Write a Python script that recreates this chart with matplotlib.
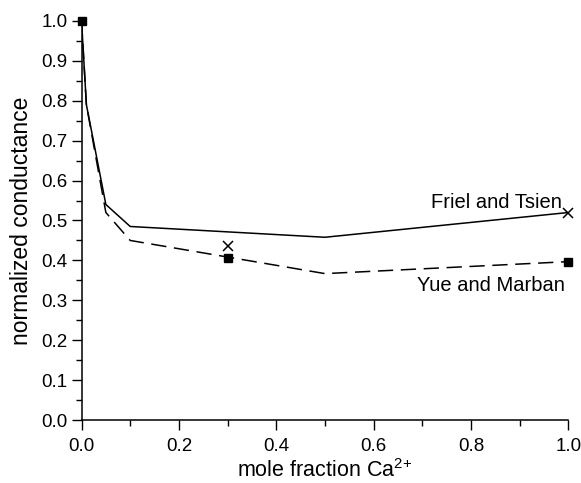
import matplotlib
matplotlib.use("Agg")
import matplotlib.pyplot as plt
from matplotlib.ticker import MultipleLocator

plt.rcParams["font.family"] = ["Liberation Sans", "DejaVu Sans"]
plt.rcParams["mathtext.fontset"] = "custom"
plt.rcParams["mathtext.rm"] = "Liberation Sans"

# Model curves
x_model = [0.0, 0.01, 0.05, 0.1, 0.5, 1.0]
friel_model = [1.0, 0.79, 0.54, 0.485, 0.458, 0.52]
yue_model = [1.0, 0.79, 0.52, 0.45, 0.367, 0.397]

# Experimental points
x_friel = [0.3, 1.0]
friel_data = [0.437, 0.52]
x_yue = [0.0, 0.3, 1.0]
yue_data = [1.0, 0.405, 0.397]

fig = plt.figure(figsize=(5.81, 4.83), dpi=100)
ax = fig.add_axes([0.1403, 0.130, 0.838, 0.827])

ax.plot(x_model, friel_model, color="black", lw=1.1)
ax.plot(x_model, yue_model, color="black", lw=1.1, dashes=(10, 5))
ax.plot(x_friel, friel_data, ls="none", marker="x", ms=7.5, mew=1.1,
        color="black", clip_on=False)
ax.plot(x_yue, yue_data, ls="none", marker="s", ms=6, color="black",
        clip_on=False)

ax.text(0.986, 0.532, "Friel and Tsien", ha="right", va="baseline", fontsize=14.5)
ax.text(0.84, 0.36, "Yue and Marban", ha="center", va="top", fontsize=14.5)

ax.set_xlim(0, 1.0)
ax.set_ylim(0, 1.0)
ax.xaxis.set_major_locator(MultipleLocator(0.2))
ax.xaxis.set_minor_locator(MultipleLocator(0.1))
ax.yaxis.set_major_locator(MultipleLocator(0.1))
ax.yaxis.set_minor_locator(MultipleLocator(0.05))
ax.xaxis.set_major_formatter(plt.FormatStrFormatter("%.1f"))
ax.yaxis.set_major_formatter(plt.FormatStrFormatter("%.1f"))
ax.tick_params(which="major", direction="out", length=7, width=1, labelsize=13.5)
ax.tick_params(which="minor", direction="out", length=4, width=1)
ax.tick_params(axis="x", which="major", pad=6)
ax.tick_params(axis="y", which="major", pad=3)
ax.spines["top"].set_visible(False)
ax.spines["right"].set_visible(False)
for s in ("left", "bottom"):
    ax.spines[s].set_linewidth(1.1)

ax.set_xlabel("mole fraction Ca$^{\\mathrm{2{+}}}$", fontsize=15.5, labelpad=3)
ax.set_ylabel("normalized conductance", fontsize=16.5, labelpad=6)

fig.savefig("out.png", dpi=100)
